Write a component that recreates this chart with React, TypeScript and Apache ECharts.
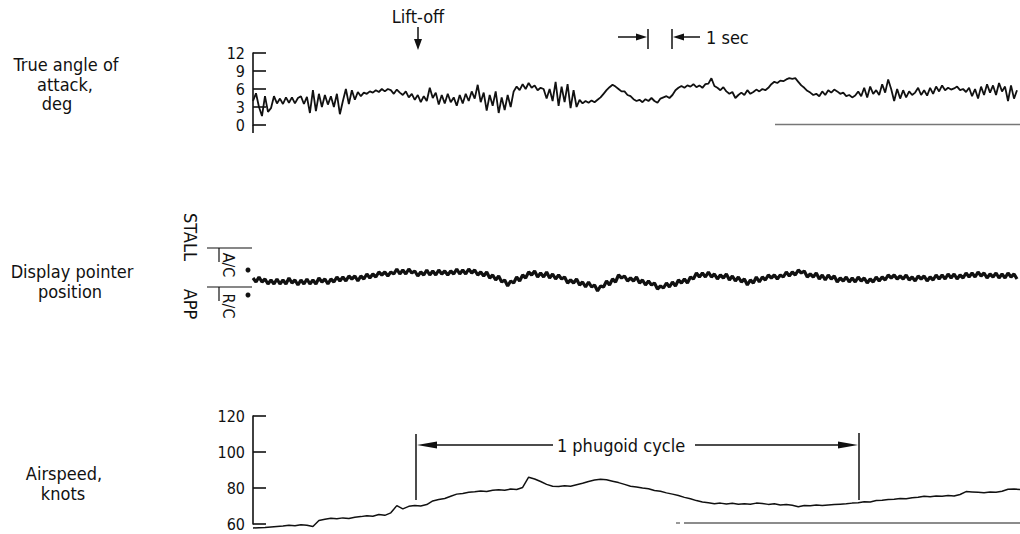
import React, { useEffect, useRef } from "react";
import * as echarts from "echarts";

// True angle of attack, deg — sampled every 0.125 s
const alphaDeg = [
  4.0, 5.3, 3.0, 1.5, 4.8, 2.2, 2.8, 4.8, 3.6, 4.4, 3.5, 4.6, 3.7, 4.6, 3.6, 4.5,
  4.8, 3.5, 4.7, 2.0, 5.8, 2.3, 5.2, 3.0, 5.0, 3.4, 4.8, 3.0, 5.2, 1.8, 4.0, 6.0,
  3.5, 5.8, 4.2, 5.5, 4.8, 5.4, 5.2, 5.6, 5.4, 5.8, 5.5, 6.0, 5.6, 6.0, 5.8, 5.2,
  5.9, 5.4, 5.0, 5.6, 4.6, 5.2, 4.2, 5.0, 3.8, 4.8, 4.0, 6.2, 4.5, 5.4, 3.4, 5.0,
  3.6, 5.2, 3.8, 4.6, 3.2, 5.0, 3.6, 5.2, 4.0, 5.6, 4.4, 6.7, 3.8, 5.4, 2.4, 5.0,
  3.2, 5.6, 2.0, 4.6, 2.5, 5.0, 3.0, 5.6, 6.4, 5.8, 6.8, 6.0, 7.0, 6.2, 6.6, 5.8,
  6.2, 6.0, 4.4, 6.0, 4.0, 7.2, 3.2, 6.4, 3.8, 6.8, 2.8, 5.8, 3.0, 4.2, 3.6, 4.0,
  3.7, 4.1, 3.8, 4.2, 4.6, 5.2, 5.8, 6.3, 6.7, 6.4, 6.0, 5.6, 5.6, 5.0, 4.8, 4.3,
  4.0, 4.2, 3.8, 4.3, 4.0, 4.5, 4.0, 3.7, 4.4, 4.6, 4.8, 4.5, 5.0, 5.8, 6.2, 6.5,
  6.2, 6.6, 6.4, 6.8, 6.3, 6.6, 6.2, 6.8, 6.9, 7.8, 6.5, 6.2, 5.8, 6.3, 5.6, 5.2,
  5.5, 4.5, 5.0, 5.4, 5.0, 5.8, 5.2, 5.5, 5.9, 5.6, 6.0, 5.8, 6.2, 6.8, 7.2, 7.0,
  7.4, 7.3, 7.6, 7.8, 7.7, 7.8, 7.2, 6.6, 6.2, 5.7, 5.4, 5.0, 5.2, 4.8, 5.6, 5.0,
  5.8, 5.4, 5.9, 5.6, 5.2, 5.4, 4.8, 5.0, 4.6, 4.9, 5.6, 4.8, 6.2, 4.6, 6.4, 5.2,
  5.8, 5.0, 6.8, 5.4, 7.6, 6.0, 4.0, 6.0, 4.4, 5.8, 4.6, 5.6, 5.0, 5.4, 6.2, 5.0,
  5.8, 4.9, 6.2, 5.2, 6.4, 5.6, 6.6, 5.8, 6.2, 5.9, 6.1, 6.4, 5.8, 6.0, 5.5, 6.2,
  4.8, 6.0, 4.4, 6.4, 5.0, 6.8, 5.4, 6.6, 5.0, 7.0, 5.6, 6.4, 4.0, 6.6, 4.4, 5.8,
];

// Display pointer position (STALL = +20, APP = -20) — sampled every 0.125 s
const pointerPos = [
  -10, -14, -9, -14, -11, -16, -12, -16, -11, -16, -12, -16, -10, -15, -12, -17,
  -12, -16, -11, -16, -12, -16, -10, -14, -11, -16, -11, -14, -9, -13, -9, -13,
  -8, -11, -8, -13, -8, -11, -6, -10, -6, -9, -4, -7, -4, -8, -4, -6,
  -1, -6, -2, -6, -1, -5, -3, -8, -4, -7, -2, -7, -3, -7, -2, -6,
  -3, -7, -3, -6, -1, -6, -2, -6, -1, -5, -2, -7, -4, -8, -4, -10,
  -7, -12, -8, -14, -12, -18, -13, -15, -9, -13, -7, -10, -4, -7, -3, -9,
  -5, -9, -4, -10, -6, -11, -7, -11, -9, -15, -12, -15, -11, -17, -14, -19,
  -14, -19, -17, -23, -18, -19, -13, -17, -11, -14, -7, -10, -8, -13, -10, -13,
  -9, -15, -12, -17, -13, -17, -15, -21, -18, -20, -15, -19, -14, -18, -12, -15,
  -11, -15, -9, -11, -5, -9, -5, -9, -4, -9, -6, -11, -7, -10, -6, -12,
  -8, -13, -9, -14, -11, -17, -12, -15, -9, -14, -9, -12, -7, -10, -7, -11,
  -7, -9, -4, -8, -4, -7, -2, -5, -3, -9, -6, -9, -5, -11, -7, -12,
  -7, -11, -8, -14, -10, -13, -9, -14, -10, -14, -9, -13, -10, -15, -11, -14,
  -9, -13, -9, -12, -7, -10, -7, -11, -8, -11, -7, -12, -9, -13, -8, -11,
  -8, -13, -9, -12, -7, -11, -7, -11, -6, -10, -6, -11, -7, -10, -5, -9,
  -5, -9, -4, -8, -5, -10, -6, -9, -5, -10, -6, -10, -5, -9, -6, -11,
];

// Airspeed, knots — sampled every 0.25 s
const airspeedKt = [
  57.8, 57.9, 58.0, 58.3, 58.6, 58.9, 59.3, 59.0, 59.6, 59.3, 58.6, 62.0, 62.6, 63.2, 62.9, 63.4,
  63.1, 63.8, 64.1, 64.6, 64.3, 65.3, 64.8, 66.2, 70.2, 68.4, 69.8, 70.3, 70.0, 70.8, 72.8, 73.6,
  74.2, 75.4, 76.6, 77.0, 77.6, 77.9, 78.3, 78.1, 78.8, 79.0, 78.7, 79.4, 79.2, 80.3, 86.0, 85.0,
  83.6, 82.0, 81.0, 80.8, 81.2, 81.0, 81.8, 82.6, 83.6, 84.4, 84.8, 84.6, 83.8, 83.0, 82.0, 81.0,
  80.6, 80.0, 79.6, 78.6, 78.2, 77.3, 76.6, 75.8, 74.8, 74.0, 73.0, 72.2, 71.8, 71.3, 71.6, 71.1,
  71.5, 71.0, 71.3, 71.0, 71.6, 71.4, 70.9, 71.2, 70.5, 70.8, 70.4, 69.6, 70.3, 70.2, 70.5, 70.3,
  70.6, 70.8, 71.0, 71.2, 71.6, 71.8, 72.4, 72.2, 73.0, 73.2, 73.6, 73.8, 74.2, 74.0, 74.6, 74.8,
  75.4, 75.2, 75.6, 75.4, 75.8, 75.6, 76.4, 78.0, 77.8, 77.6, 77.4, 77.8, 77.6, 78.2, 79.3, 79.4,
  79.2,
];

const alphaTicks = [0, 3, 6, 9, 12];
const speedTicks = [60, 80, 100, 120];

const FONT = "'DejaVu Sans Condensed', 'Liberation Sans Narrow', sans-serif";
const INK = "#111";

function txt(x: number, y: number, text: string, opts: any = {}) {
  return {
    type: "text",
    x,
    y,
    rotation: opts.rotation || 0,
    style: {
      text,
      fill: INK,
      font: `${opts.size || 18}px ${FONT}`,
      align: opts.align || "center",
      verticalAlign: "middle",
    },
  };
}
function seg(x1: number, y1: number, x2: number, y2: number, w = 1.5, color = INK) {
  return { type: "line", shape: { x1, y1, x2, y2 }, style: { stroke: color, lineWidth: w } };
}
function tri(points: number[][]) {
  return { type: "polygon", shape: { points }, style: { fill: INK } };
}

export default function App() {
  const ref = useRef<HTMLDivElement>(null);
  useEffect(() => {
    document.body.style.margin = "0";
    if (!ref.current) return;
    const chart = echarts.init(ref.current, null, { renderer: "svg" });
    const axisStyle = (min: number, max: number, interval: number, gridIndex: number) => ({
      type: "value",
      gridIndex,
      min,
      max,
      interval,
      axisLine: { show: true, lineStyle: { color: INK, width: 1.6 } },
      axisTick: { show: true, inside: true, length: 13, lineStyle: { color: INK, width: 1.6 } },
      axisLabel: { color: INK, fontSize: 16, fontFamily: FONT, margin: 8 },
      splitLine: { show: false },
    });
    const option: any = {
      animation: false,
      backgroundColor: "#fff",
      grid: [
        { left: 253, top: 53, width: 767, height: 72 },
        { left: 253, top: 248, width: 767, height: 40 },
        { left: 253, top: 416, width: 767, height: 108 },
      ],
      xAxis: [0, 1, 2].map((g) => ({ type: "value", gridIndex: g, min: 0, max: 32, show: false })),
      yAxis: [
        axisStyle(alphaTicks[0], alphaTicks[alphaTicks.length - 1], 3, 0),
        { type: "value", gridIndex: 1, min: -20, max: 20, show: false },
        axisStyle(speedTicks[0], speedTicks[speedTicks.length - 1], 20, 2),
      ],
      series: [
        {
          type: "line",
          xAxisIndex: 0,
          yAxisIndex: 0,
          showSymbol: false,
          clip: false,
          lineStyle: { color: INK, width: 1.8 },
          data: alphaDeg.map((v, i) => [i * 0.125, v]),
        },
        {
          type: "line",
          xAxisIndex: 1,
          yAxisIndex: 1,
          showSymbol: false,
          clip: false,
          lineStyle: { color: INK, width: 3.2 },
          data: pointerPos.map((v, i) => [i * 0.125, v]),
        },
        {
          type: "line",
          xAxisIndex: 2,
          yAxisIndex: 2,
          showSymbol: false,
          clip: false,
          lineStyle: { color: INK, width: 1.5 },
          data: airspeedKt.map((v, i) => [i * 0.25, v]),
        },
      ],
      graphic: [
        // left panel labels
        txt(66, 64, "True angle of"),
        txt(65, 84, "attack,"),
        txt(57, 103, "deg"),
        txt(72, 271, "Display pointer"),
        txt(70, 291, "position"),
        txt(64, 473, "Airspeed,"),
        txt(63, 493, "knots"),
        // extension of top axis
        seg(253, 125, 253, 133, 1.6),
        // lift-off
        txt(418, 16, "Lift-off"),
        seg(418, 27, 418, 42),
        tri([[414, 39], [422, 39], [418, 50]]),
        // 1 sec marker
        seg(618, 37, 640, 37),
        tri([[636, 33.5], [636, 40.5], [647, 37]]),
        seg(648, 29, 648, 49),
        seg(672, 29, 672, 49),
        seg(680, 37, 700, 37),
        tri([[673, 37], [684, 33.5], [684, 40.5]]),
        txt(706, 37, "1 sec", { align: "left" }),
        // gray reference lines
        seg(775, 124.5, 1020, 124.5, 1.5, "#777"),
        seg(676, 523, 680, 523, 1.5, "#777"),
        seg(684, 523, 1020, 523, 1.5, "#666"),
        // display pointer scale
        txt(190, 237, "STALL", { rotation: -Math.PI / 2 }),
        txt(190, 304, "APP", { rotation: -Math.PI / 2 }),
        txt(228, 265, "A/C", { rotation: -Math.PI / 2, size: 16 }),
        txt(228, 306, "R/C", { rotation: -Math.PI / 2, size: 16 }),
        seg(207, 248, 252, 248, 1.2),
        seg(207, 287, 252, 287, 1.2),
        seg(219, 248, 219, 262, 1.2),
        seg(219, 287, 219, 301, 1.2),
        { type: "circle", shape: { cx: 248, cy: 270, r: 2.5 }, style: { fill: INK } },
        { type: "circle", shape: { cx: 248, cy: 295, r: 2.5 }, style: { fill: INK } },
        // phugoid cycle
        seg(416, 434, 416, 500),
        seg(859, 433, 859, 500),
        seg(430, 445, 553, 445),
        tri([[417, 445], [437, 441.5], [437, 448.5]]),
        txt(621, 445, "1 phugoid cycle"),
        seg(695, 445, 845, 445),
        tri([[858, 445], [838, 441.5], [838, 448.5]]),
      ],
    };
    chart.setOption(option);
    return () => chart.dispose();
  }, []);
  return <div ref={ref} style={{ width: 1020, height: 534 }} />;
}
